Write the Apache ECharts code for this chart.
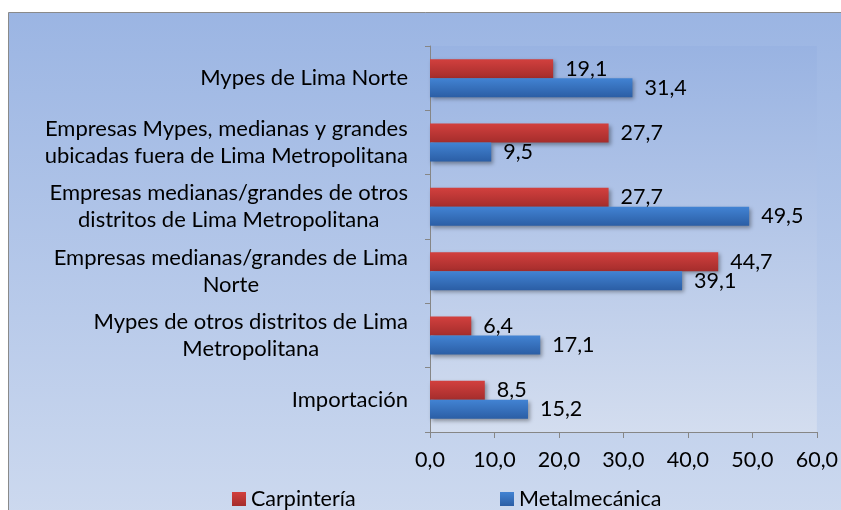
<!DOCTYPE html>
<html><head><meta charset="utf-8">
<script src="https://cdn.jsdelivr.net/npm/echarts@6/dist/echarts.min.js"></script>
<style>html,body{margin:0;padding:0;background:#fff}#c{width:841px;height:510px}</style>
</head><body><div id="c"></div>
<script>
const categories = [
  'Importación',
  'Mypes de otros distritos de Lima\nMetropolitana',
  'Empresas medianas/grandes de Lima\nNorte',
  'Empresas medianas/grandes de otros\ndistritos de Lima Metropolitana',
  'Empresas Mypes, medianas y grandes\nubicadas fuera de Lima Metropolitana',
  'Mypes de Lima Norte'
];
const carpinteria = [8.5, 6.4, 44.7, 27.7, 27.7, 19.1];
const metalmecanica = [15.2, 17.1, 39.1, 49.5, 9.5, 31.4];
const seriesNames = ['Carpintería', 'Metalmecánica'];
const xTicks = [0, 10, 20, 30, 40, 50, 60];

const FONT = 'Lato';
const FS = 21.5;
const FSY = 22;
const fmt = v => v.toFixed(1).replace('.', ',');
const grad = (a, b) => new echarts.graphic.LinearGradient(0, 0, 0, 1, [{offset: 0, color: a}, {offset: 1, color: b}]);

const chart = echarts.init(document.getElementById('c'));
const barCommon = {
  type: 'bar',
  barWidth: 19,
  barGap: '0%',
  label: {
    show: true, position: 'right', distance: 12,
    color: '#000', fontFamily: FONT, fontSize: FS,
    formatter: p => fmt(p.value)
  }
};
chart.setOption({
  animation: false,
  graphic: [{
    type: 'rect', z: -10, silent: true,
    shape: {x: 8.5, y: 12.5, width: 900, height: 600},
    style: {fill: grad('#9bb5e3', '#d6e0f1'), stroke: '#8a8a8a', lineWidth: 1}
  }],
  grid: {left: 430, right: 21, top: 46, bottom: 78, show: true, borderWidth: 0,
    backgroundColor: grad('#99b3e2', '#d3ddef')},
  legend: [{
    data: [seriesNames[0]], left: 227, top: 483, icon: 'rect', itemWidth: 14, itemHeight: 14, itemGap: 0,
    textStyle: {fontFamily: FONT, fontSize: FS, color: '#000'}
  }, {
    data: [seriesNames[1]], left: 495, top: 483, icon: 'rect', itemWidth: 14, itemHeight: 14,
    textStyle: {fontFamily: FONT, fontSize: FS, color: '#000'}
  }],
  xAxis: {
    type: 'value', min: xTicks[0], max: xTicks[xTicks.length - 1], interval: 10,
    splitLine: {show: false},
    axisLine: {show: true, lineStyle: {color: '#868686', width: 1}},
    axisTick: {show: true, length: 6, lineStyle: {color: '#868686'}},
    axisLabel: {fontFamily: FONT, fontSize: FS, color: '#000', margin: 17, formatter: v => fmt(v)}
  },
  yAxis: {
    type: 'category', data: categories,
    axisLine: {show: true, lineStyle: {color: '#868686', width: 1}},
    axisTick: {show: true, length: 5, lineStyle: {color: '#868686'}},
    axisLabel: {
      fontFamily: FONT, fontSize: FSY, color: '#000', margin: 22, align: 'right', lineHeight: 27,
      formatter: v => v.split('\n').map(l => '{c|' + l + '}').join('\n'),
      rich: {c: {align: 'center', fontFamily: FONT, fontSize: FSY, color: '#000', lineHeight: 27}}
    }
  },
  series: [
    Object.assign({}, barCommon, {
      name: seriesNames[0], data: carpinteria,
      itemStyle: {color: grad('#d2403e', '#a52d2c'), shadowColor: 'rgba(0,0,0,0.35)', shadowBlur: 4, shadowOffsetX: 2, shadowOffsetY: 2}
    }),
    Object.assign({}, barCommon, {
      name: seriesNames[1], data: metalmecanica,
      itemStyle: {color: grad('#4283d3', '#2b5ea5'), shadowColor: 'rgba(0,0,0,0.35)', shadowBlur: 4, shadowOffsetX: 2, shadowOffsetY: 2}
    })
  ]
});
</script></body></html>
